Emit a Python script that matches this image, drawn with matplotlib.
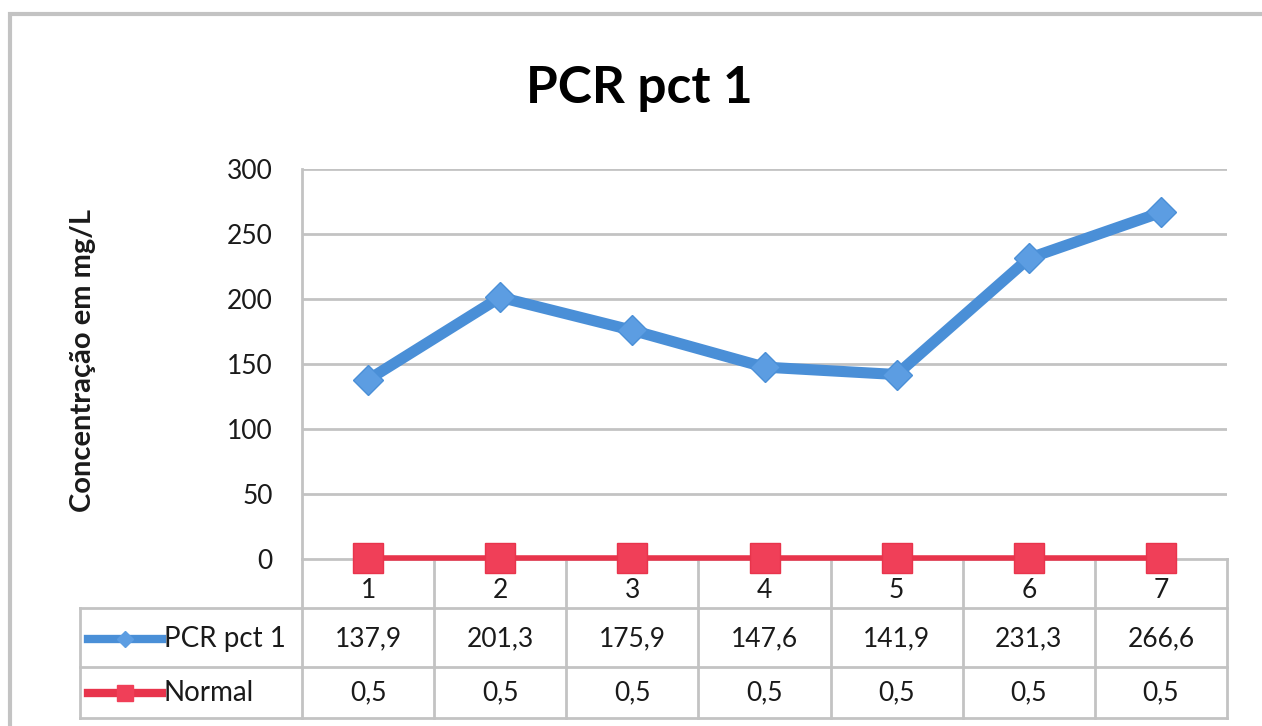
import matplotlib.pyplot as plt
from matplotlib.patches import Rectangle

# data
categorias = [1, 2, 3, 4, 5, 6, 7]
pcr = [137.9, 201.3, 175.9, 147.6, 141.9, 231.3, 266.6]
normal = [0.5, 0.5, 0.5, 0.5, 0.5, 0.5, 0.5]
pcr_txt = ['137,9', '201,3', '175,9', '147,6', '141,9', '231,3', '266,6']
normal_txt = ['0,5'] * 7
yticks = [0, 50, 100, 150, 200, 250, 300]

plt.rcParams['font.family'] = ['Lato', 'DejaVu Sans']

azul = '#4A8FD7'
vermelho = '#E8344C'
cinza = '#C3C3C3'
texto = '#1a1a1a'

W, H = 1262, 726
fig = plt.figure(figsize=(W / 100, H / 100), dpi=100)

# outer chart border
fig.patches.append(Rectangle((10 / W, -0.1), 1.2, 1 - 14 / H + 0.1, transform=fig.transFigure,
                             fill=False, edgecolor=cinza, lw=3))

left, right, top, bottom = 302, 1227, 169, 559
ax = fig.add_axes([left / W, 1 - bottom / H, (right - left) / W, (bottom - top) / H])

for y in yticks[1:]:
    ax.axhline(y, color=cinza, lw=2, zorder=1)

ax.plot(categorias, pcr, color=azul, lw=8, marker='D', markersize=15,
        markerfacecolor='#5C9DE2', markeredgecolor=azul, zorder=3, clip_on=False)
ax.plot(categorias, normal, color=vermelho, lw=4, marker='s', markersize=21,
        markerfacecolor='#F03F58', markeredgecolor=vermelho, zorder=4, clip_on=False)

ax.set_xlim(0.5, 7.5)
ax.set_ylim(0, 300)
ax.set_yticks(yticks)
ax.set_yticklabels([str(v) for v in yticks], fontsize=19, color=texto)
ax.tick_params(axis='y', length=0, pad=21)
ax.set_xticks([])
for s in ['top', 'right', 'bottom']:
    ax.spines[s].set_visible(False)
ax.spines['left'].set_color(cinza)
ax.spines['left'].set_linewidth(2)

fig.text(639 / W, 1 - 89 / H, 'PCR pct 1', fontsize=37, fontweight='bold',
         ha='center', va='center', color='black')
fig.text(83 / W, 1 - 360 / H, 'Concentração em mg/L', fontsize=21, fontweight='bold',
         rotation=90, ha='center', va='center', color=texto)

# data table under the axes (axes coordinates)
tr = ax.transAxes
ah = bottom - top
def ya(py):
    return -(py - bottom) / ah
def xa(px):
    return (px - left) / (right - left)

y_head, y_r1, y_r2 = ya(608), ya(667), ya(718)
x_tab = xa(80)
n = len(categorias)

lk = dict(color=cinza, lw=2, transform=tr, clip_on=False, zorder=1)
ax.plot([0, 1], [0, 0], **lk)
for yy in [y_head, y_r1, y_r2]:
    ax.plot([x_tab, 1], [yy, yy], **lk)
for i in range(n + 1):
    ax.plot([i / n, i / n], [0, y_r2], **lk)
ax.plot([x_tab, x_tab], [y_head, y_r2], **lk)

for i, c in enumerate(categorias):
    xc = (i + 0.5) / n
    ax.text(xc, ya(590), str(c), transform=tr, ha='center', va='center', fontsize=19, color=texto)
    ax.text(xc, ya(639), pcr_txt[i], transform=tr, ha='center', va='center', fontsize=19, color=texto)
    ax.text(xc, ya(693), normal_txt[i], transform=tr, ha='center', va='center', fontsize=19, color=texto)

# legend keys inside the table
ax.plot([xa(88), xa(162)], [ya(639)] * 2, color=azul, lw=6, transform=tr, clip_on=False)
ax.plot([xa(125)], [ya(639)], marker='D', markersize=8, color='#5C9DE2', transform=tr, clip_on=False)
ax.plot([xa(88), xa(162)], [ya(693)] * 2, color=vermelho, lw=6, transform=tr, clip_on=False)
ax.plot([xa(125)], [ya(693)], marker='s', markersize=12, color='#F03F58', transform=tr, clip_on=False)
ax.text(xa(164), ya(639), 'PCR pct 1', transform=tr, ha='left', va='center', fontsize=20, color=texto)
ax.text(xa(164), ya(693), 'Normal', transform=tr, ha='left', va='center', fontsize=20, color=texto)

fig.savefig('out.png', dpi=100)
